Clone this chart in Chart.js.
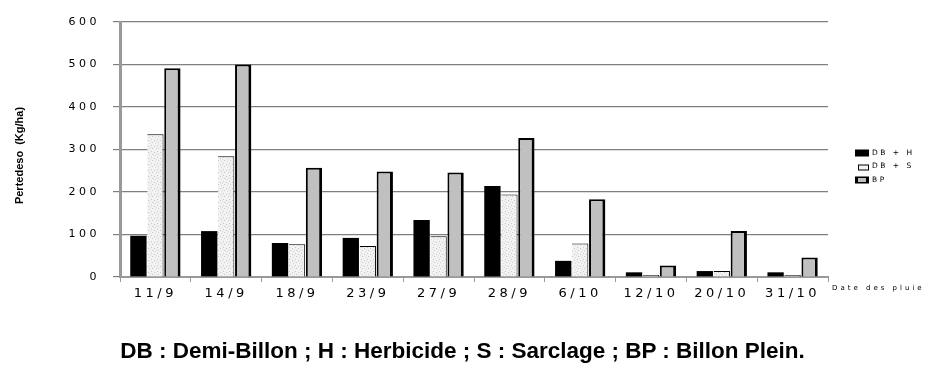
<!DOCTYPE html>
<html>
<head>
<meta charset="utf-8">
<script src="https://cdn.jsdelivr.net/npm/chart.js@4/dist/chart.umd.min.js"></script>
<style>
  html, body { margin: 0; padding: 0; background: #fff; }
  #wrap { position: relative; width: 925px; height: 385px; }
  #caption {
    position: absolute; left: 0; width: 925px; top: 338px; text-align: center;
    font: bold 22.5px "Liberation Sans", Arial, sans-serif; color: #000;
  }
</style>
</head>
<body>
<div id="wrap">
  <canvas id="chart" width="925" height="385"></canvas>
  <div id="caption">DB : Demi-Billon ; H : Herbicide ; S : Sarclage ; BP : Billon Plein.</div>
</div>
<script>
const dates = ['11/9', '14/9', '18/9', '23/9', '27/9', '28/9', '6/10', '12/10', '20/10', '31/10'];
const dbH = [97, 108, 80, 92, 134, 214, 38, 11, 14, 11];
const dbS = [336, 284, 77, 73, 96, 194, 79, 5, 14, 5];
const bp = [491, 500, 257, 248, 246, 327, 183, 27, 108, 46];
const yTicks = [0, 100, 200, 300, 400, 500, 600];

function speckle() {
  const c = document.createElement('canvas');
  c.width = 6; c.height = 6;
  const g = c.getContext('2d');
  g.fillStyle = '#f2f2f2';
  g.fillRect(0, 0, 6, 6);
  g.fillStyle = '#c8c8c8';
  g.fillRect(1, 1, 1, 1);
  g.fillRect(4, 2, 1, 1);
  g.fillRect(2, 4, 1, 1);
  g.fillStyle = '#dcdcdc';
  g.fillRect(5, 5, 1, 1);
  g.fillRect(0, 3, 1, 1);
  return g.createPattern(c, 'repeat');
}

const sideText = {
  id: 'sideText',
  beforeDraw(chart) {
    chart.ctx.letterSpacing = '3.5px';
  },
  afterDraw(chart) {
    const { ctx, chartArea } = chart;
    ctx.save();
    ctx.fillStyle = '#000';
    ctx.textBaseline = 'middle';

    // y axis title
    ctx.letterSpacing = '0px';
    ctx.save();
    ctx.translate(20, (chartArea.top + chartArea.bottom) / 2 + 6);
    ctx.rotate(-Math.PI / 2);
    ctx.textAlign = 'center';
    ctx.font = 'bold 11px "Liberation Sans Narrow", "Liberation Sans"';
    ctx.fillText('Pertedeso  (Kg/ha)', 0, 0);
    ctx.restore();

    ctx.letterSpacing = '3px';
    ctx.font = '7px "DejaVu Sans"';
    ctx.fillText('Date des pluies', chartArea.right + 4, chartArea.bottom + 11);

    // legend
    const items = chart.data.datasets;
    const x0 = 855, y0 = 153, step = 13.5;
    ctx.letterSpacing = '2.5px';
    items.forEach((ds, i) => {
      const y = y0 + i * step;
      if (i === 0) {
        ctx.fillStyle = '#000';
        ctx.fillRect(x0, y - 3.5, 14, 7);
      } else if (i === 1) {
        ctx.fillStyle = '#f2f2f2';
        ctx.fillRect(x0 + 3, y - 1, 11, 5);
        ctx.strokeStyle = '#000';
        ctx.lineWidth = 1;
        ctx.strokeRect(x0 + 3.5, y - 1.5, 10, 5);
      } else {
        ctx.fillStyle = '#000';
        ctx.fillRect(x0, y - 3.5, 14, 7);
        ctx.fillStyle = '#c0c0c0';
        ctx.fillRect(x0 + 3, y - 2, 8, 4);
      }
      ctx.fillStyle = '#000';
      ctx.font = '7.5px "DejaVu Sans"';
      ctx.fillText(ds.label, x0 + 17, y);
    });
    ctx.restore();
    ctx.letterSpacing = '0px';
  }
};

new Chart(document.getElementById('chart'), {
  type: 'bar',
  data: {
    labels: dates,
    datasets: [
      { label: 'DB + H', data: dbH, backgroundColor: '#000', borderWidth: 0 },
      { label: 'DB + S', data: dbS, backgroundColor: speckle(), borderColor: '#000',
        borderWidth: { top: 1, right: 1, left: 0, bottom: 0 }, borderSkipped: false },
      { label: 'BP', data: bp, backgroundColor: '#c0c0c0', borderColor: '#000',
        borderWidth: { top: 2, right: 3, left: 2, bottom: 0 }, borderSkipped: false }
    ]
  },
  plugins: [sideText],
  options: {
    responsive: false,
    animation: false,
    layout: { padding: { left: 10, right: 97, top: 22, bottom: 78 } },
    datasets: { bar: { categoryPercentage: 0.72, barPercentage: 0.96 } },
    plugins: { legend: { display: false }, tooltip: { enabled: false } },
    scales: {
      x: {
        afterFit(scale) { scale.height = 30; },
        grid: { drawOnChartArea: false, drawTicks: true, tickLength: 5, color: '#999', offset: true },
        border: { color: '#999', width: 2 },
        ticks: { color: '#000', padding: 4, font: { family: 'DejaVu Sans', size: 13 } }
      },
      y: {
        min: 0, max: 600,
        afterFit(scale) { scale.width = 110; },
        afterBuildTicks(scale) { scale.ticks = yTicks.map(v => ({ value: v })); },
        grid: { color: '#808080', lineWidth: 1.2, tickLength: 7 },
        border: { color: '#999', width: 3 },
        ticks: { color: '#000', padding: 13, font: { family: 'DejaVu Sans', size: 11 } }
      }
    }
  }
});
</script>
</body>
</html>
